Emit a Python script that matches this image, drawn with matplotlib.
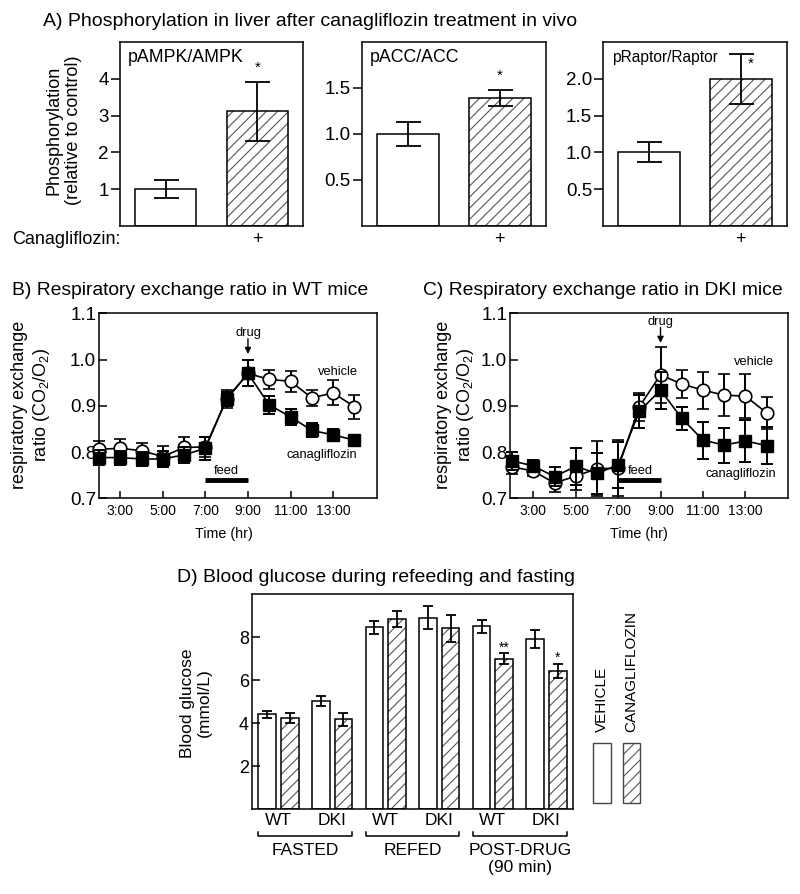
import numpy as np
import matplotlib

matplotlib.use('agg')
import matplotlib.pyplot as plt
from matplotlib.patches import Rectangle

plt.rcParams['font.family'] = ['Liberation Sans', 'DejaVu Sans']
plt.rcParams['mathtext.fontset'] = 'custom'
plt.rcParams['mathtext.rm'] = 'Liberation Sans'
plt.rcParams['mathtext.it'] = 'Liberation Sans:italic'
plt.rcParams['hatch.linewidth'] = 0.8
plt.rcParams['axes.linewidth'] = 1.1

W, H = 800, 894
HATCH_GRAY = '#555555'

# ---- panel A data ----
phos_names = ['pAMPK/AMPK', 'pACC/ACC', 'pRaptor/Raptor']
phos_ctrl = [1.0, 1.0, 1.0]
phos_ctrl_err = [0.25, 0.135, 0.135]
phos_cana = [3.12, 1.39, 2.0]
phos_cana_err = [0.8, 0.09, 0.34]
phos_ymax = [5.0, 2.0, 2.5]
phos_ticks = [[1, 2, 3, 4], [0.5, 1.0, 1.5], [0.5, 1.0, 1.5, 2.0]]
phos_ticklabels = [['1', '2', '3', '4'], ['0.5', '1.0', '1.5'], ['0.5', '1.0', '1.5', '2.0']]
phos_star_y = [4.3, 1.63, 2.2]
phos_star_x = [2.0, 2.0, 2.1]
phos_name_size = [12.8, 12.8, 11.2]

# ---- panels B/C data ----
hours = [2, 3, 4, 5, 6, 7, 8, 9, 10, 11, 12, 13, 14]
hour_ticks = [3, 5, 7, 9, 11, 13]
hour_labels = ['3:00', '5:00', '7:00', '9:00', '11:00', '13:00']

wt_veh = [0.806, 0.808, 0.803, 0.790, 0.810, 0.811, 0.915, 0.970, 0.957, 0.953, 0.917, 0.928, 0.898]
wt_veh_err = [0.017, 0.020, 0.017, 0.022, 0.022, 0.022, 0.020, 0.028, 0.021, 0.023, 0.017, 0.027, 0.026]
wt_cana = [0.788, 0.788, 0.785, 0.785, 0.794, 0.808, 0.915, 0.970, 0.902, 0.876, 0.847, 0.837, 0.826]
wt_cana_err = [0.017, 0.015, 0.015, 0.018, 0.017, 0.025, 0.015, 0.028, 0.020, 0.018, 0.015, 0.013, 0.010]

dki_veh = [0.768, 0.759, 0.733, 0.748, 0.764, 0.765, 0.898, 0.967, 0.947, 0.934, 0.923, 0.921, 0.885]
dki_veh_err = [0.015, 0.010, 0.020, 0.030, 0.060, 0.060, 0.030, 0.060, 0.030, 0.040, 0.045, 0.048, 0.035]
dki_cana = [0.781, 0.770, 0.747, 0.769, 0.754, 0.772, 0.888, 0.934, 0.873, 0.826, 0.815, 0.824, 0.814]
dki_cana_err = [0.020, 0.012, 0.020, 0.040, 0.045, 0.050, 0.035, 0.040, 0.025, 0.040, 0.038, 0.045, 0.040]

# ---- panel D data ----
geno_labels = ['WT', 'DKI', 'WT', 'DKI', 'WT', 'DKI']
group_labels = ['FASTED', 'REFED', 'POST-DRUG\n(90 min)']
glu_veh = [4.42, 5.04, 8.46, 8.92, 8.52, 7.92]
glu_veh_err = [0.16, 0.25, 0.30, 0.53, 0.30, 0.40]
glu_cana = [4.26, 4.18, 8.85, 8.42, 7.00, 6.45]
glu_cana_err = [0.23, 0.30, 0.37, 0.62, 0.25, 0.33]
glu_stars = ['', '', '', '', '**', '*']


def px_axes(fig, l, t, r, b):
    return fig.add_axes([l / W, 1 - b / H, (r - l) / W, (b - t) / H])


def ftext(fig, x, y, s, **kw):
    return fig.text(x / W, 1 - y / H, s, **kw)


def hatched_bar(ax, x, h, width):
    # hatch in gray, outline in black
    ax.bar(x, h, width, color='white', edgecolor=HATCH_GRAY, hatch='///', linewidth=0)
    ax.bar(x, h, width, color='none', edgecolor='black', linewidth=1.1)


fig = plt.figure(figsize=(W / 100, H / 100), dpi=100)

# ================= A =================
ftext(fig, 43, 26, 'A) Phosphorylation in liver after canagliflozin treatment in vivo',
      fontsize=14, va='baseline')
a_boxes = [(120, 42, 303, 226), (361.7, 42, 546, 226), (603.3, 42, 787.3, 226)]
for i, box in enumerate(a_boxes):
    ax = px_axes(fig, *box)
    ax.bar(1, phos_ctrl[i], 0.67, color='white', edgecolor='black', linewidth=1.1)
    hatched_bar(ax, 2, phos_cana[i], 0.67)
    ax.errorbar([1, 2], [phos_ctrl[i], phos_cana[i]], yerr=[phos_ctrl_err[i], phos_cana_err[i]],
                fmt='none', ecolor='black', elinewidth=1.3, capsize=9, capthick=1.3)
    ax.text(phos_star_x[i], phos_star_y[i], '*', ha='center', va='center', fontsize=11)
    ax.text(0.045, 0.915, phos_names[i], transform=ax.transAxes, ha='left', va='center',
            fontsize=phos_name_size[i])
    ax.set_xlim(0.5, 2.5)
    ax.set_ylim(0, phos_ymax[i])
    ax.set_xticks([])
    ax.set_yticks(phos_ticks[i])
    ax.set_yticklabels(phos_ticklabels[i])
    ax.tick_params(axis='y', direction='out', length=6.5, width=1.1, pad=1.5, labelsize=13.5)
    ftext(fig, (box[0] + box[2]) / 2 + 45.5, 240, '+', ha='center', va='center', fontsize=13)

ftext(fig, 64, 130, 'Phosphorylation\n(relative to control)', rotation=90,
      ha='center', va='center', fontsize=13, linespacing=1.2)
ftext(fig, 12, 240, 'Canagliflozin:', ha='left', va='center', fontsize=13)


# ================= B / C =================
def rer_panel(box, xlim, veh, veh_err, cana, cana_err, ann):
    ax = px_axes(fig, *box)
    ax.errorbar(hours, veh, yerr=veh_err, fmt='-o', color='black', mfc='white', mec='black',
                ms=9, mew=1.2, lw=1.2, elinewidth=1.4, capsize=4.3, capthick=1.4, clip_on=False,
                zorder=3)
    ax.errorbar(hours, cana, yerr=cana_err, fmt='-s', color='black', mfc='black', mec='black',
                ms=9, lw=1.2, elinewidth=1.4, capsize=4.3, capthick=1.4, clip_on=False, zorder=4)
    ax.set_xlim(*xlim)
    ax.set_ylim(0.7, 1.1)
    ax.set_xticks(hour_ticks)
    ax.set_xticklabels(hour_labels)
    ax.set_yticks([0.7, 0.8, 0.9, 1.0, 1.1])
    ax.set_yticklabels(['0.7', '0.8', '0.9', '1.0', '1.1'])
    ax.tick_params(axis='x', direction='in', length=5, width=1.1, pad=4, labelsize=10)
    ax.tick_params(axis='y', direction='in', length=6, width=1.1, pad=2, labelsize=13.5)
    drug_y, veh_xy, cana_xy, feed_xy = ann
    ax.annotate('', xy=(9, drug_y - 0.045), xytext=(9, drug_y - 0.012),
                arrowprops=dict(arrowstyle='-|>', color='black', lw=1.0, mutation_scale=9,
                                shrinkA=0, shrinkB=0))
    ax.text(9, drug_y, 'drug', ha='center', va='center', fontsize=9.3)
    ax.text(*veh_xy, 'vehicle', ha='center', va='center', fontsize=9.3)
    ax.text(*cana_xy, 'canagliflozin', ha='center', va='center', fontsize=9.3)
    ax.text(*feed_xy, 'feed', ha='center', va='center', fontsize=9.3)
    ax.plot([7, 9], [0.74, 0.74], color='black', lw=3.5, solid_capstyle='butt')
    return ax


ftext(fig, 12, 295, 'B) Respiratory exchange ratio in WT mice', fontsize=13.9, va='baseline')
rer_panel((99, 313.3, 376.7, 498.3), (2.0, 15.05), wt_veh, wt_veh_err, wt_cana, wt_cana_err,
          (1.057, (13.25, 0.973), (12.46, 0.794), (8.0, 0.759)))
ftext(fig, 31.5, 405, 'respiratory exchange\nratio (CO$_2$/O$_2$)', rotation=90,
      ha='center', va='center', fontsize=13, linespacing=1.2)
ftext(fig, 224, 534, 'Time (hr)', ha='center', va='center', fontsize=10.3)

ftext(fig, 422.7, 295, 'C) Respiratory exchange ratio in DKI mice', fontsize=13.9, va='baseline')
rer_panel((510, 313.3, 787.7, 498.3), (1.9, 15.0), dki_veh, dki_veh_err, dki_cana, dki_cana_err,
          (1.081, (13.4, 0.994), (12.8, 0.752), (8.04, 0.759)))
ftext(fig, 456, 405, 'respiratory exchange\nratio (CO$_2$/O$_2$)', rotation=90,
      ha='center', va='center', fontsize=13, linespacing=1.2)
ftext(fig, 639, 534, 'Time (hr)', ha='center', va='center', fontsize=10.3)

# ================= D =================
ftext(fig, 176.7, 582, 'D) Blood glucose during refeeding and fasting', fontsize=14, va='baseline')
d_box = (251.7, 594.3, 573.3, 809.3)
axd = px_axes(fig, *d_box)
pos = np.arange(len(glu_veh))
off, bw = 0.21, 0.33
axd.bar(pos - off, glu_veh, bw, color='white', edgecolor='black', linewidth=1.1)
for p, v in zip(pos, glu_cana):
    hatched_bar(axd, p + off, v, bw)
axd.errorbar(pos - off, glu_veh, yerr=glu_veh_err, fmt='none', ecolor='black',
             elinewidth=1.3, capsize=3.6, capthick=1.3)
axd.errorbar(pos + off, glu_cana, yerr=glu_cana_err, fmt='none', ecolor='black',
             elinewidth=1.3, capsize=3.6, capthick=1.3)
for p, v, e, s in zip(pos, glu_cana, glu_cana_err, glu_stars):
    if s:
        axd.text(p + off, v + e + 0.28, s, ha='center', va='center', fontsize=10)
axd.set_xlim(-0.5, 5.5)
axd.set_ylim(0, 10)
axd.set_yticks([2, 4, 6, 8])
axd.set_yticklabels(['2', '4', '6', '8'])
axd.set_xticks(pos)
axd.set_xticklabels(geno_labels)
axd.tick_params(axis='x', length=0, pad=3, labelsize=12.5)
axd.tick_params(axis='y', direction='in', length=6, width=1.1, pad=2, labelsize=13)


def yfrac(py):
    return (d_box[3] - py) / (d_box[3] - d_box[1])


trans = axd.get_xaxis_transform()
yb, ytick = yfrac(836), yfrac(831.5)
for g, lab in enumerate(group_labels):
    x0, x1 = 2 * g - off - bw / 2, 2 * g + 1 + off + bw / 2
    axd.plot([x0, x0, x1, x1], [ytick, yb, yb, ytick], color='black', lw=1.1,
             transform=trans, clip_on=False)
    axd.text(2 * g + 0.5, yfrac(843), lab, transform=trans, ha='center', va='top',
             fontsize=12.5, linespacing=1.15)

ftext(fig, 196, 703, 'Blood glucose\n(mmol/L)', rotation=90, ha='center', va='center',
      fontsize=12.5, linespacing=1.2)

# legend
fig.patches.append(Rectangle((592.7 / W, 1 - 803.3 / H), 18 / W, 60.6 / H, transform=fig.transFigure,
                             facecolor='white', edgecolor='#444444', linewidth=1.0))
fig.patches.append(Rectangle((622.7 / W, 1 - 803.3 / H), 17.3 / W, 60.6 / H, transform=fig.transFigure,
                             facecolor='white', edgecolor=HATCH_GRAY, hatch='///', linewidth=0))
fig.patches.append(Rectangle((622.7 / W, 1 - 803.3 / H), 17.3 / W, 60.6 / H, transform=fig.transFigure,
                             facecolor='none', edgecolor='#444444', linewidth=1.0))
ftext(fig, 601.7, 731.7, 'VEHICLE', rotation=90, ha='center', va='bottom', fontsize=11)
ftext(fig, 631.7, 731.7, 'CANAGLIFLOZIN', rotation=90, ha='center', va='bottom', fontsize=11)

fig.savefig('out.png', dpi=100)
